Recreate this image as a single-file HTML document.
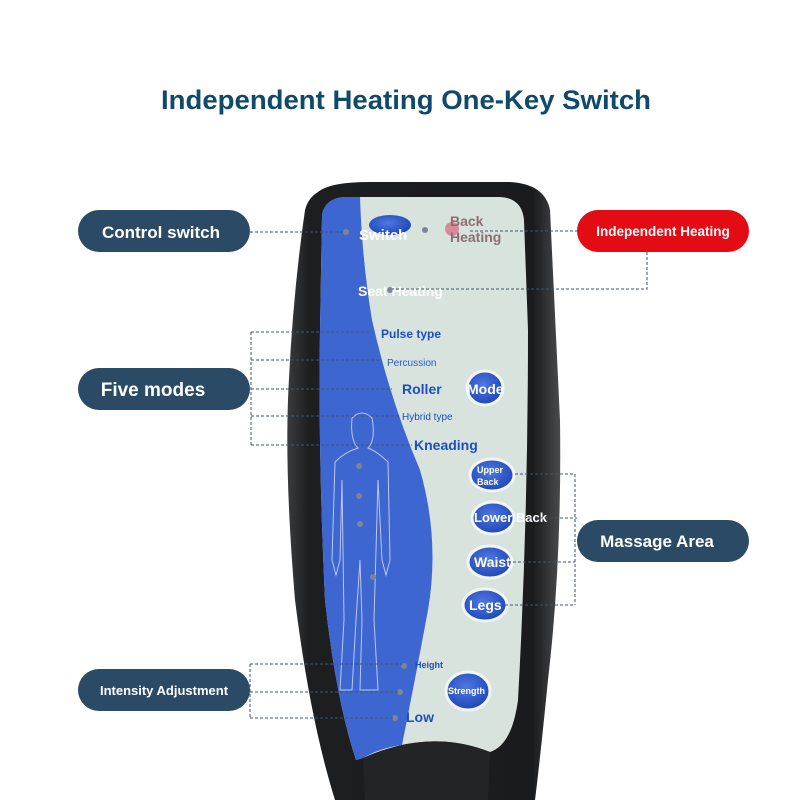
<!DOCTYPE html>
<html><head><meta charset="utf-8"><style>
html,body{margin:0;padding:0;background:#fff}
svg{display:block}
text{font-family:"Liberation Sans",sans-serif}
</style></head><body>
<svg width="800" height="800" viewBox="0 0 800 800" xmlns="http://www.w3.org/2000/svg">
<defs>
<linearGradient id="body" x1="0" x2="1" y1="0" y2="0">
<stop offset="0" stop-color="#3a3b3d"/><stop offset="0.08" stop-color="#1d1e20"/><stop offset="0.9" stop-color="#1a1b1d"/><stop offset="1" stop-color="#4a4b4d"/>
</linearGradient>
<radialGradient id="btn" cx="0.45" cy="0.4" r="0.6"><stop offset="0" stop-color="#4f78e0"/><stop offset="1" stop-color="#1f47b8"/></radialGradient>
</defs>
<rect width="800" height="800" fill="#fff"/>
<text x="406" y="109" text-anchor="middle" font-size="27" font-weight="bold" fill="#0f4a6a" textLength="490" lengthAdjust="spacingAndGlyphs">Independent Heating One-Key Switch</text>

<path d="M318 192 Q330 182 370 182 L510 182 Q545 184 550 210 L560 420 Q562 560 548 680 Q540 760 535 800 L335 800 Q310 720 295 600 Q285 480 288 400 Q292 300 305 210 Q308 198 318 192 Z" fill="url(#body)"/>
<path d="M322 215 Q325 198 345 197 L500 197 Q522 198 524 220 L528 330 Q528 520 518 700 Q512 745 490 752 Q430 728 363 758 L356 760 Q336 700 325 600 Q318 450 320 330 Z" fill="#d8e3de"/>
<path d="M322 215 Q325 198 345 197 L360 197 Q362 260 372 320 Q390 400 420 470 Q440 540 428 610 Q415 680 402 745 Q380 748 363 758 L356 760 Q336 700 325 600 Q318 450 320 330 Z" fill="#3e66d0"/>
<path d="M363 758 Q430 728 490 752 L488 800 L365 800 Z" fill="#232426"/>
<g fill="none" stroke="#b9c8f2" stroke-width="1">
<path d="M352 418 Q350 440 358 448 Q345 452 335 462 L332 560 L336 575 L340 560 L342 480 L344 620 L340 690 L352 690 L356 620 L360 560 L362 620 L360 690 L378 690 L374 620 L378 480 L382 560 L386 575 L390 560 L388 462 Q378 452 368 448 Q376 440 372 418 Q362 408 352 418 Z"/>
</g>
<g fill="#7a8598"><circle cx="359" cy="466" r="3"/><circle cx="359" cy="496" r="3"/><circle cx="360" cy="524" r="3"/><circle cx="373" cy="577" r="3"/>
<circle cx="404" cy="666" r="3"/><circle cx="400" cy="692" r="3"/><circle cx="395" cy="718" r="3"/><circle cx="346" cy="232" r="3"/><circle cx="425" cy="230" r="3"/><circle cx="390" cy="290" r="3"/></g>
<circle cx="452" cy="229" r="7" fill="#d98a9a"/>
<ellipse cx="390" cy="225" rx="21" ry="10" fill="url(#btn)"/>
<g stroke="#f2f5f6" stroke-width="3" fill="url(#btn)">
<ellipse cx="485" cy="388" rx="18" ry="17"/>
<ellipse cx="492" cy="475" rx="22" ry="16"/>
<ellipse cx="493" cy="518" rx="21" ry="16"/>
<ellipse cx="490" cy="562" rx="22" ry="16"/>
<ellipse cx="485" cy="605" rx="22" ry="16"/>
<ellipse cx="468" cy="691" rx="22" ry="19"/>
</g>
<g fill="#fff" font-weight="bold">
<text x="359" y="240" font-size="15">Switch</text>
<text x="358" y="296" font-size="14">Seat Heating</text>
<text x="467" y="394" font-size="14">Mode</text>
<text x="477" y="473" font-size="9">Upper</text>
<text x="477" y="485" font-size="9">Back</text>
<text x="474" y="522" font-size="13">Lower Back</text>
<text x="474" y="567" font-size="14">Waist</text>
<text x="469" y="610" font-size="14">Legs</text>
<text x="448" y="694" font-size="9">Strength</text>
</g>
<text x="450" y="226" font-size="14" font-weight="bold" fill="#8b6f72">Back</text>
<text x="450" y="242" font-size="14" font-weight="bold" fill="#8b6f72">Heating</text>
<g fill="#1d4fc4" font-weight="bold">
<text x="381" y="338" font-size="12">Pulse type</text>
<text x="387" y="366" font-size="10" font-weight="normal" fill="#2a5ad0">Percussion</text>
<text x="402" y="394" font-size="14">Roller</text>
<text x="402" y="420" font-size="10" font-weight="normal">Hybrid type</text>
<text x="414" y="450" font-size="14">Kneading</text>
<text x="415" y="668" font-size="9">Height</text>
<text x="406" y="722" font-size="14">Low</text>
</g>
<g stroke="#3e5568" stroke-width="1" stroke-dasharray="3,2" fill="none">
<path d="M250 232 H343"/>
<path d="M251 332 V445 M251 332 H370 M251 360 H380 M251 389 H392 M251 416 H400 M251 445 H412"/>
<path d="M250 664 V718 M250 664 H402 M250 692 H398 M250 718 H393"/>
<path d="M470 231 H577"/>
<path d="M647 252 V289 H392"/>
<path d="M575 474 V605 M515 474 H575 M530 518 H577 M508 562 H575 M505 605 H575"/>
</g>
<g>
<rect x="78" y="210" width="172" height="42" rx="21" fill="#2b4a65"/>
<text x="161" y="238" text-anchor="middle" font-size="17" font-weight="bold" fill="#fff">Control switch</text>
<rect x="78" y="368" width="172" height="42" rx="21" fill="#2b4a65"/>
<text x="153" y="396" text-anchor="middle" font-size="19" font-weight="bold" fill="#fff">Five modes</text>
<rect x="78" y="669" width="172" height="42" rx="21" fill="#2b4a65"/>
<text x="164" y="695" text-anchor="middle" font-size="13" font-weight="bold" fill="#fff">Intensity Adjustment</text>
<rect x="577" y="210" width="172" height="42" rx="21" fill="#e30b14"/>
<text x="663" y="236" text-anchor="middle" font-size="13.5" font-weight="bold" fill="#fff">Independent Heating</text>
<rect x="577" y="520" width="172" height="42" rx="21" fill="#2b4a65"/>
<text x="657" y="547" text-anchor="middle" font-size="17" font-weight="bold" fill="#fff">Massage Area</text>
</g>
</svg>
</body></html>
